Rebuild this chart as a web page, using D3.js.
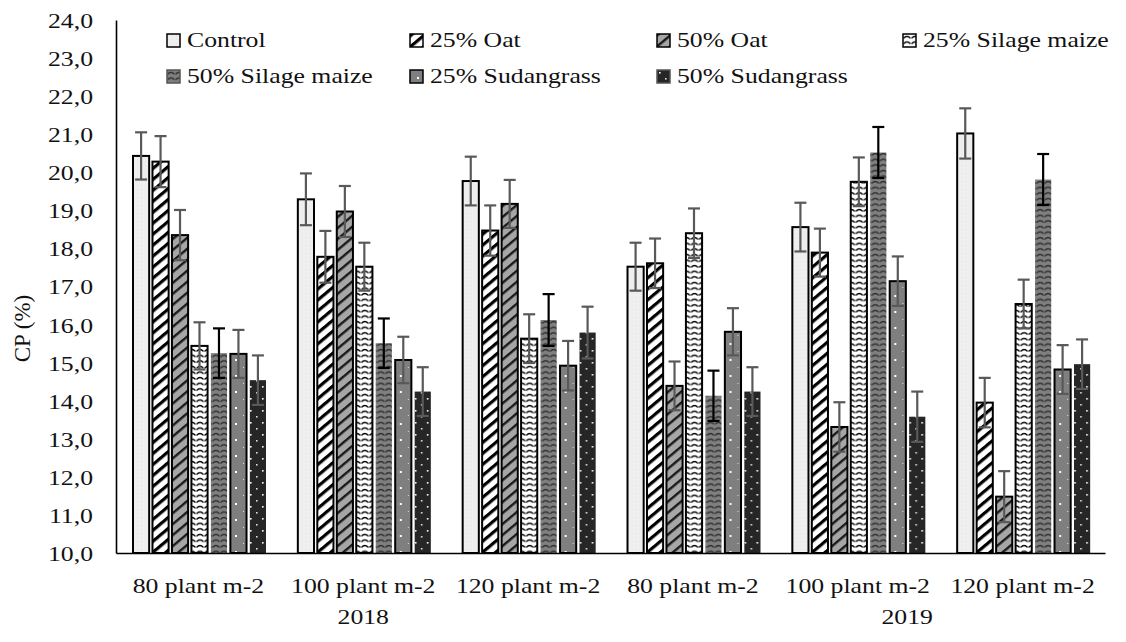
<!DOCTYPE html>
<html>
<head>
<meta charset="utf-8">
<script src="https://cdn.jsdelivr.net/npm/d3@7"></script>
<style>
  html, body { margin: 0; padding: 0; background: #fff; }
  svg { display: block; }
  text { font-family: "Liberation Serif", "Times New Roman", serif; fill: #111; }
</style>
</head>
<body>
<svg id="chart" width="1126" height="642"></svg>
<script>
// ---------- DATA ----------
const categories = ["80 plant m-2", "100 plant m-2", "120 plant m-2", "80 plant m-2", "100 plant m-2", "120 plant m-2"];
const years = ["2018", "2019"];
const seriesNames = ["Control", "25% Oat", "50% Oat", "25% Silage maize", "50% Silage maize", "25% Sudangrass", "50% Sudangrass"];

const control       = [20.43, 19.29, 19.77, 17.52, 18.56, 21.02];
const oat25         = [20.28, 17.78, 18.47, 17.61, 17.89, 13.95];
const oat50         = [18.35, 18.97, 19.17, 14.39, 13.31, 11.48];
const silage25      = [15.44, 17.52, 15.63, 18.40, 19.75, 16.54];
const silage50      = [15.25, 15.51, 16.12, 14.13, 20.52, 19.81];
const sudan25       = [15.23, 15.07, 14.92, 15.81, 17.14, 14.82];
const sudan50       = [14.54, 14.24, 15.79, 14.24, 13.58, 14.96];

const controlErr    = [0.62, 0.68, 0.64, 0.63, 0.64, 0.66];
const oat25Err      = [0.67, 0.68, 0.66, 0.65, 0.63, 0.65];
const oat50Err      = [0.66, 0.67, 0.63, 0.64, 0.65, 0.67];
const silage25Err   = [0.62, 0.63, 0.64, 0.65, 0.64, 0.64];
const silage50Err   = [0.65, 0.65, 0.68, 0.66, 0.67, 0.67];
const sudan25Err    = [0.63, 0.61, 0.65, 0.62, 0.65, 0.64];
const sudan50Err    = [0.65, 0.64, 0.68, 0.64, 0.66, 0.65];

const yTicks = [10, 11, 12, 13, 14, 15, 16, 17, 18, 19, 20, 21, 22, 23, 24];

const seriesValues = [control, oat25, oat50, silage25, silage50, sudan25, sudan50];
const seriesErrors = [controlErr, oat25Err, oat50Err, silage25Err, silage50Err, sudan25Err, sudan50Err];

// ---------- STYLE ----------
const fills = ["url(#pControl)", "url(#pOat25)", "url(#pOat50)", "url(#pSil25)", "url(#pSil50)", "url(#pSud25)", "url(#pSud50)"];
const borders = ["#000", "#000", "#000", "#000", "none", "#000", "none"];
const errColors = ["#595959", "#595959", "#595959", "#595959", "#000", "#595959", "#595959"];
const SX = 1.17; // horizontal text stretch of the original

const svg = d3.select("#chart");
const defs = svg.append("defs");

// patterns
(function () {
  let p = defs.append("pattern").attr("id", "pControl").attr("patternUnits", "userSpaceOnUse").attr("width", 4).attr("height", 4);
  p.append("rect").attr("width", 4).attr("height", 4).attr("fill", "#efefef");
  p.append("rect").attr("x", 1).attr("y", 1).attr("width", 1).attr("height", 1).attr("fill", "#e2e2e2");

  p = defs.append("pattern").attr("id", "pOat25").attr("patternUnits", "userSpaceOnUse")
    .attr("width", 8).attr("height", 8.4).attr("patternTransform", "rotate(-40)");
  p.append("rect").attr("width", 8).attr("height", 8.4).attr("fill", "#fff");
  p.append("rect").attr("width", 8).attr("height", 3.2).attr("fill", "#000");

  p = defs.append("pattern").attr("id", "pOat50").attr("patternUnits", "userSpaceOnUse")
    .attr("width", 8).attr("height", 8.4).attr("patternTransform", "rotate(-40)");
  p.append("rect").attr("width", 8).attr("height", 8.4).attr("fill", "#a6a6a6");
  p.append("rect").attr("width", 8).attr("height", 2.4).attr("fill", "#1a1a1a");

  p = defs.append("pattern").attr("id", "pSil25").attr("patternUnits", "userSpaceOnUse").attr("width", 8).attr("height", 5.6);
  p.append("rect").attr("width", 8).attr("height", 5.6).attr("fill", "#fff");
  p.append("path").attr("d", "M0.5,4.2 Q4,0.6 7.5,4.2").attr("fill", "none").attr("stroke", "#000").attr("stroke-width", 1.3);

  p = defs.append("pattern").attr("id", "pSil50").attr("patternUnits", "userSpaceOnUse").attr("width", 8).attr("height", 5.6);
  p.append("rect").attr("width", 8).attr("height", 5.6).attr("fill", "#7f7f7f");
  p.append("path").attr("d", "M0.5,4.2 Q4,0.6 7.5,4.2").attr("fill", "none").attr("stroke", "#2e2e2e").attr("stroke-width", 1.3);

  p = defs.append("pattern").attr("id", "pSud25").attr("patternUnits", "userSpaceOnUse").attr("width", 16).attr("height", 16);
  p.append("rect").attr("width", 16).attr("height", 16).attr("fill", "#7f7f7f");
  p.append("rect").attr("x", 7).attr("y", 7).attr("width", 2).attr("height", 2).attr("fill", "#fff");
  p.append("rect").attr("x", 15).attr("y", 15).attr("width", 1.5).attr("height", 1.5).attr("fill", "#ddd");

  p = defs.append("pattern").attr("id", "pSud50").attr("patternUnits", "userSpaceOnUse").attr("width", 12).attr("height", 12);
  p.append("rect").attr("width", 12).attr("height", 12).attr("fill", "#262626");
  p.append("rect").attr("x", 2).attr("y", 2).attr("width", 1.6).attr("height", 1.6).attr("fill", "#fff");
  p.append("rect").attr("x", 8).attr("y", 8).attr("width", 1.6).attr("height", 1.6).attr("fill", "#ddd");
})();

// ---------- SCALES ----------
const plotLeft = 116, plotRight = 1105, plotTop = 20, plotBottom = 553;
const y = d3.scaleLinear().domain([10, 24]).range([plotBottom, plotTop]);
const x0 = d3.scaleBand().domain(d3.range(categories.length)).range([plotLeft, plotRight]).paddingInner(0).paddingOuter(0);
const x1 = d3.scaleBand().domain(d3.range(seriesNames.length)).range([17, 150]).paddingInner(0.17).paddingOuter(0);

// ---------- BARS ----------
const groups = svg.append("g").selectAll("g")
  .data(d3.range(categories.length)).join("g")
  .attr("transform", gi => `translate(${x0(gi)},0)`);

groups.selectAll("rect.bar")
  .data(gi => seriesValues.map((vals, si) => ({ si, v: vals[gi], e: seriesErrors[si][gi] })))
  .join("rect").attr("class", "bar")
  .attr("x", d => x1(d.si))
  .attr("width", x1.bandwidth())
  .attr("y", d => y(d.v))
  .attr("height", d => y(10) - y(d.v))
  .attr("fill", d => fills[d.si])
  .attr("stroke", d => borders[d.si])
  .attr("stroke-width", 2);

// error bars
const eb = groups.selectAll("g.err")
  .data(gi => seriesValues.map((vals, si) => ({ si, v: vals[gi], e: seriesErrors[si][gi] })))
  .join("g").attr("class", "err")
  .attr("stroke", d => errColors[d.si]).attr("stroke-width", 2.2);
eb.append("line")
  .attr("x1", d => x1(d.si) + x1.bandwidth() / 2).attr("x2", d => x1(d.si) + x1.bandwidth() / 2)
  .attr("y1", d => y(d.v - d.e)).attr("y2", d => y(d.v + d.e));
eb.append("line")
  .attr("x1", d => x1(d.si) + x1.bandwidth() / 2 - 6).attr("x2", d => x1(d.si) + x1.bandwidth() / 2 + 6)
  .attr("y1", d => y(d.v + d.e)).attr("y2", d => y(d.v + d.e));
eb.append("line")
  .attr("x1", d => x1(d.si) + x1.bandwidth() / 2 - 6).attr("x2", d => x1(d.si) + x1.bandwidth() / 2 + 6)
  .attr("y1", d => y(d.v - d.e)).attr("y2", d => y(d.v - d.e));

// ---------- AXES ----------
const yAxis = svg.append("g").attr("transform", `translate(${plotLeft},0)`)
  .call(d3.axisLeft(y).tickValues(yTicks).tickSize(0).tickSizeOuter(0)
    .tickFormat(d => d.toFixed(1).replace(".", ",")));
yAxis.select(".domain").attr("stroke", "#000").attr("stroke-width", 1.6);
yAxis.selectAll("text")
  .attr("x", -23 / SX).attr("dy", "0.34em")
  .attr("transform", `scale(${SX},1)`)
  .style("font-family", '"Liberation Serif", serif').style("font-size", "22px").attr("fill", "#111");

const xAxis = svg.append("g").attr("transform", `translate(0,${plotBottom})`)
  .call(d3.axisBottom(x0).tickSize(0).tickSizeOuter(0).tickFormat(i => categories[i]));
xAxis.select(".domain").attr("stroke", "#000").attr("stroke-width", 1.6);
xAxis.selectAll("text")
  .attr("y", 40).attr("dy", 0)
  .attr("transform", `scale(${SX},1)`)
  .style("font-family", '"Liberation Serif", serif').style("font-size", "22px").attr("fill", "#111");

// year labels
const yearX = [
  (x0(0) + x0(2) + x0.bandwidth()) / 2,
  x0(4) + x0.bandwidth() * 0.8
];
svg.append("g").selectAll("text").data(years).join("text")
  .attr("transform", (d, i) => `translate(${yearX[i]},624) scale(${SX},1)`)
  .attr("text-anchor", "middle")
  .style("font-size", "22px")
  .text(d => d);

// y title
svg.append("text")
  .attr("transform", `translate(30,${(plotTop + plotBottom) / 2 + 42}) rotate(-90)`)
  .attr("text-anchor", "middle")
  .style("font-size", "23px")
  .text("CP (%)");

// ---------- LEGEND ----------
const legendX = [167, 410, 657, 903, 167, 410, 657];
const legendY = [34, 34, 34, 34, 70, 70, 70];
const lg = svg.append("g").selectAll("g").data(seriesNames).join("g")
  .attr("transform", (d, i) => `translate(${legendX[i]},${legendY[i]})`);
lg.append("rect")
  .attr("width", 13).attr("height", 13)
  .attr("fill", (d, i) => fills[i])
  .attr("stroke", (d, i) => borders[i] === "none" ? "#555" : "#000")
  .attr("stroke-width", 1.5);
lg.append("text")
  .attr("transform", `translate(20,13) scale(${SX},1)`)
  .style("font-size", "22px")
  .text(d => d);
</script>
</body>
</html>
